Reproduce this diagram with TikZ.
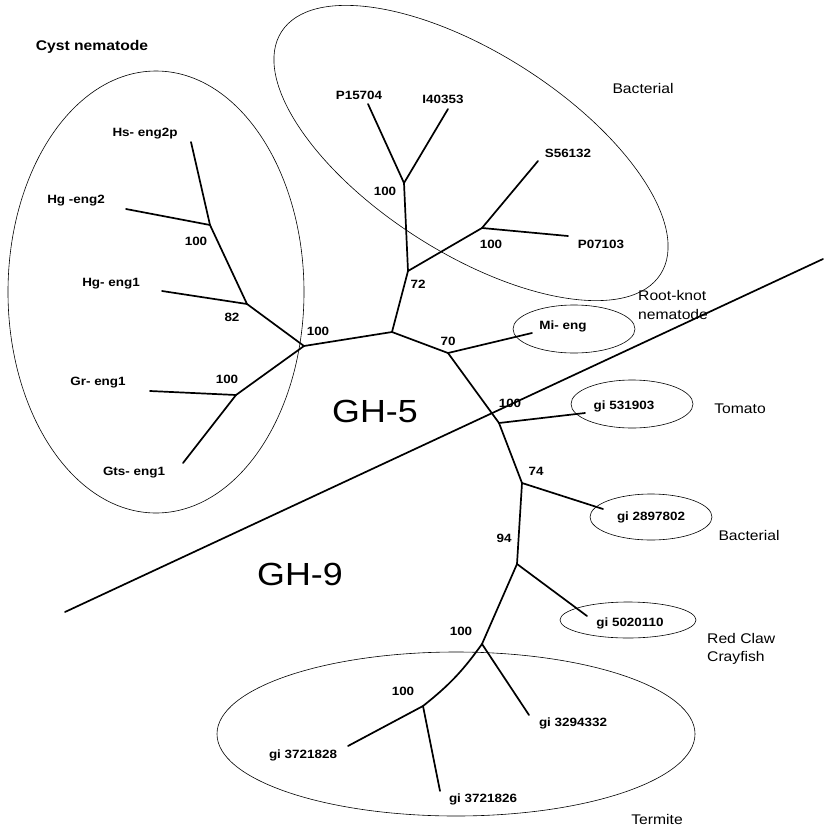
\documentclass[tikz,border=0pt]{standalone}
\usepackage{fontspec}
\setmainfont{Liberation Sans}[FakeStretch=1.12]
\begin{document}
\begin{tikzpicture}[x=1pt,y=-1pt,
  br/.style={line width=1.7pt, line cap=round, line join=round},
  ell/.style={line width=0.6pt},
  sep/.style={line width=1.7pt, line cap=round},
  leaf/.style={font=\bfseries\fontsize{12}{14}\selectfont, inner sep=0pt},
  num/.style={font=\bfseries\fontsize{12}{14}\selectfont, inner sep=0pt},
  cat/.style={font=\fontsize{14}{16}\selectfont, inner sep=0pt},
  gh/.style={font=\fontsize{32}{36}\selectfont, inner sep=0pt}]
\useasboundingbox (0,0) rectangle (823,828);

% ---------- ellipses ----------
\draw[ell] (156,292) ellipse [x radius=148pt, y radius=221pt];
\draw[ell, rotate around={-32.6:(471,153)}] (471,153) ellipse [x radius=225pt, y radius=100pt];
\draw[ell] (574,329) ellipse [x radius=61pt, y radius=24pt];
\draw[ell] (632,404) ellipse [x radius=61pt, y radius=24pt];
\draw[ell] (651,517) ellipse [x radius=61pt, y radius=23pt];
\draw[ell] (628,620) ellipse [x radius=68pt, y radius=18pt];
\draw[ell] (456,734) ellipse [x radius=239pt, y radius=82pt];

% ---------- separating line ----------
\coordinate (d1) at (65,612);
\coordinate (d2) at (823,259);
\draw[sep] (d1) -- (d2);

% ---------- tree coordinates ----------
\coordinate (hs2p) at (191,142);
\coordinate (hg2)  at (126,209);
\coordinate (hg1)  at (162,291);
\coordinate (gr1)  at (150,391);
\coordinate (gts1) at (183,463);
\coordinate (A) at (210,225);
\coordinate (B) at (247,304);
\coordinate (C) at (304,346);
\coordinate (D) at (236,395);
\coordinate (H) at (392,332);
\coordinate (F) at (408,271);
\coordinate (E) at (404,183);
\coordinate (G) at (482,228);
\coordinate (p15) at (368,104);
\coordinate (i40) at (448,109);
\coordinate (s56) at (538,161);
\coordinate (p07) at (568,236);
\coordinate (I) at (448,353);
\coordinate (mi) at (532,333);
\coordinate (J) at (499,423);
\coordinate (t53) at (585,413);
\coordinate (K) at (522,483);
\coordinate (g28) at (603,509);
\coordinate (L) at (517,564);
\coordinate (g50) at (587,616);
\coordinate (M) at (482,644);
\coordinate (g32) at (529,715);
\coordinate (N) at (423,706);
\coordinate (g28b) at (348,746);
\coordinate (g26) at (440,791);

% ---------- branches ----------
\draw[br] (hs2p) -- (A);
\draw[br] (hg2) -- (A);
\draw[br] (A) -- (B);
\draw[br] (hg1) -- (B);
\draw[br] (B) -- (C);
\draw[br] (C) -- (D);
\draw[br] (gr1) -- (D);
\draw[br] (D) -- (gts1);
\draw[br] (C) -- (H);
\draw[br] (H) -- (F);
\draw[br] (F) -- (E);
\draw[br] (E) -- (p15);
\draw[br] (E) -- (i40);
\draw[br] (F) -- (G);
\draw[br] (G) -- (s56);
\draw[br] (G) -- (p07);
\draw[br] (H) -- (I);
\draw[br] (I) -- (mi);
\draw[br] (I) -- (J);
\draw[br] (J) -- (t53);
\draw[br] (J) -- (K);
\draw[br] (K) -- (g28);
\draw[br] (K) -- (L);
\draw[br] (L) -- (g50);
\draw[br] (L) -- (M);
\draw[br] (M) -- (g32);
\draw[br] (M) to[bend left=8] (N);
\draw[br] (N) -- (g28b);
\draw[br] (N) -- (g26);

% ---------- leaf labels ----------
\node[leaf] (lhs2p) at (145,134) {Hs- eng2p};
\node[leaf] (lhg2)  at (76,201)  {Hg -eng2};
\node[leaf] (lhg1)  at (111,284) {Hg- eng1};
\node[leaf] (lgr1)  at (98,383)  {Gr- eng1};
\node[leaf] (lgts1) at (134,473) {Gts- eng1};
\node[leaf] (lp15)  at (359,95)  {P15704};
\node[leaf] (li40)  at (443,99)  {I40353};
\node[leaf] (ls56)  at (568,153) {S56132};
\node[leaf] (lp07)  at (601,244) {P07103};
\node[leaf] (lmi)   at (563,326) {Mi- eng};
\node[leaf] (lt53)  at (624,406) {gi 531903};
\node[leaf] (lg28)  at (651,517) {gi 2897802};
\node[leaf] (lg50)  at (630,623) {gi 5020110};
\node[leaf] (lg32)  at (573,723) {gi 3294332};
\node[leaf] (lg28b) at (303,755) {gi 3721828};
\node[leaf] (lg26)  at (483,799) {gi 3721826};

% ---------- bootstrap values ----------
\node[num] (nA) at (196,241) {100};
\node[num] (nB) at (232,317) {82};
\node[num] (nC) at (318,331) {100};
\node[num] (nD) at (227,379) {100};
\node[num] (nE) at (385,191) {100};
\node[num] (nG) at (491,244) {100};
\node[num] (nF) at (418,284) {72};
\node[num] (nI) at (448,341) {70};
\node[num] (nJ) at (510,403) {100};
\node[num] (nK) at (536,471) {74};
\node[num] (nL) at (504,538) {94};
\node[num] (nM) at (461,631) {100};
\node[num] (nN) at (403,691) {100};

% ---------- group labels ----------
\node[cat, font=\bfseries\fontsize{14}{16}\selectfont] (cyst) at (92,47) {Cyst nematode};
\node[cat] (bac1) at (643,88) {Bacterial};
\node[cat, anchor=west] (rk1) at (638,295) {Root-knot};
\node[cat, anchor=west] (rk2) at (638,314) {nematode};
\node[cat] (tom) at (740,409) {Tomato};
\node[cat] (bac2) at (749,535) {Bacterial};
\node[cat, anchor=west] (rc1) at (707,638) {Red Claw};
\node[cat, anchor=west] (rc2) at (707,658) {Crayfish};
\node[cat] (ter) at (657,819) {Termite};
\node[gh] (gh5) at (375,411) {GH-5};
\node[gh] (gh9) at (300,574) {GH-9};
\end{tikzpicture}
\end{document}
